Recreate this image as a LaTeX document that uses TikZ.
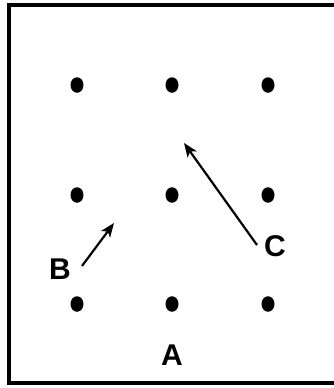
\documentclass[tikz,border=0pt]{standalone}
\usepackage{fontspec}
\setmainfont{Liberation Sans}
\usetikzlibrary{shapes.geometric,arrows.meta}
\begin{document}
\begin{tikzpicture}[x=1pt,y=-1pt,
  dot/.style={ellipse,fill=black,inner sep=0pt,minimum width=13pt,minimum height=15.5pt},
  lbl/.style={font=\fontsize{30}{32}\selectfont\bfseries,inner sep=0pt},
  arr/.style={line width=2.2pt,-{Stealth[length=14pt,width=11pt,inset=3.5pt]}},
  frame/.style={line width=3.2pt}]
\useasboundingbox (0,0) rectangle (333,388);
\draw[frame] (9,5) rectangle (345,383);
\foreach \r/\y in {1/85,2/195,3/304}{
  \foreach \c/\x in {1/77,2/172,3/268}{
    \node[dot] (d\r\c) at (\x,\y) {};
  }
}
\node[lbl] (A) at (172,355) {A};
\node[lbl] (B) at (60,269) {B};
\node[lbl] (C) at (275,246) {C};
\coordinate (btail) at (82,266);
\coordinate (btip) at (114,223);
\coordinate (ctail) at (257,245);
\coordinate (ctip) at (184,143);
\draw[arr] (btail) -- (btip);
\draw[arr] (ctail) -- (ctip);
\end{tikzpicture}
\end{document}
